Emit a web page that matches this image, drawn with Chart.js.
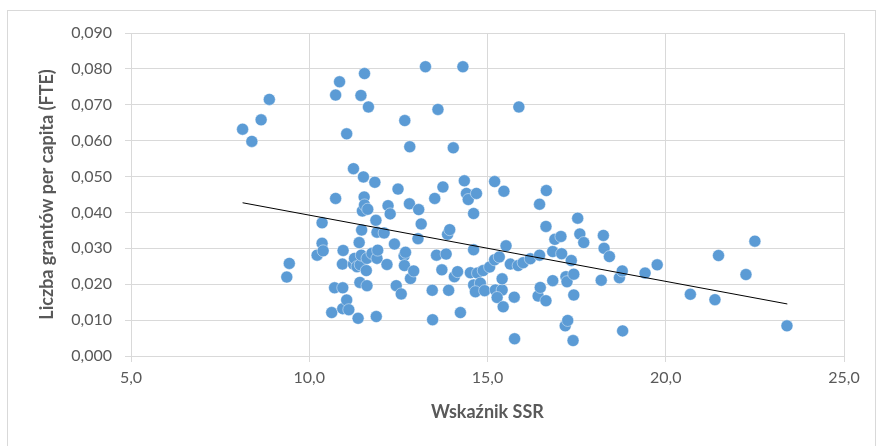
<!DOCTYPE html>
<html>
<head>
<meta charset="utf-8">
<script src="https://cdn.jsdelivr.net/npm/chart.js@4/dist/chart.umd.min.js"></script>
<style>
  body { margin: 0; background: #fff; }
</style>
</head>
<body>
<canvas id="ssr-chart" width="879" height="446"></canvas>
<script>
  // Wskaznik SSR (x) and grants per capita (y)
  var ssr = [
    8.13, 8.39, 8.65, 8.88, 9.37, 9.44, 10.22, 10.36, 10.36, 10.39,
    10.63, 10.71, 10.74, 10.74, 10.85, 10.93, 10.95, 10.94, 10.94, 11.05,
    11.05, 11.11, 11.24, 11.24, 11.27, 11.34, 11.37, 11.40, 11.42, 11.43,
    11.45, 11.46, 11.47, 11.49, 11.52, 11.55, 11.54, 11.55, 11.62, 11.60,
    11.62, 11.64, 11.66, 11.76, 11.84, 11.87, 11.88, 11.90, 11.90, 11.92,
    12.10, 12.18, 12.21, 12.27, 12.39, 12.44, 12.49, 12.58, 12.66, 12.70,
    12.67, 12.68, 12.81, 12.82, 12.84, 12.93, 13.05, 13.07, 13.14, 13.26,
    13.45, 13.46, 13.52, 13.57, 13.61, 13.72, 13.75, 13.84, 13.88, 13.94,
    13.91, 14.04, 14.07, 14.16, 14.24, 14.31, 14.35, 14.41, 14.46, 14.69,
    14.61, 14.61, 14.52, 14.72, 14.88, 15.06, 15.20, 15.33, 14.61, 14.80,
    14.66, 14.92, 15.22, 15.41, 15.27, 15.41, 15.44, 15.20, 15.46, 15.52,
    15.64, 15.75, 15.76, 15.86, 15.88, 16.00, 16.20, 16.42, 16.46, 16.46,
    16.48, 16.64, 16.64, 16.65, 16.83, 16.83, 16.89, 17.06, 17.08, 17.18,
    17.20, 17.23, 17.25, 17.35, 17.40, 17.42, 17.42, 17.53, 17.59, 17.70,
    18.19, 18.25, 18.27, 18.42, 18.70, 18.78, 18.79, 19.42, 19.76, 20.69,
    21.38, 21.48, 22.25, 22.50, 23.40
  ];
  var grants = [
    0.0632, 0.0598, 0.0658, 0.0715, 0.0220, 0.0258, 0.0281, 0.0371, 0.0314, 0.0293,
    0.0121, 0.0190, 0.0439, 0.0727, 0.0764, 0.0256, 0.0294, 0.0190, 0.0132, 0.0156,
    0.0619, 0.0129, 0.0522, 0.0256, 0.0272, 0.0249, 0.0105, 0.0316, 0.0205, 0.0254,
    0.0726, 0.0281, 0.0351, 0.0404, 0.0499, 0.0787, 0.0443, 0.0421, 0.0196, 0.0238,
    0.0272, 0.0409, 0.0694, 0.0286, 0.0484, 0.0378, 0.0110, 0.0345, 0.0272, 0.0295,
    0.0343, 0.0255, 0.0419, 0.0396, 0.0312, 0.0196, 0.0465, 0.0173, 0.0279, 0.0289,
    0.0252, 0.0656, 0.0424, 0.0583, 0.0216, 0.0237, 0.0327, 0.0408, 0.0368, 0.0806,
    0.0183, 0.0101, 0.0439, 0.0281, 0.0687, 0.0240, 0.0471, 0.0284, 0.0339, 0.0352,
    0.0183, 0.0580, 0.0221, 0.0235, 0.0121, 0.0806, 0.0488, 0.0453, 0.0436, 0.0453,
    0.0397, 0.0296, 0.0232, 0.0231, 0.0238, 0.0248, 0.0268, 0.0276, 0.0198, 0.0203,
    0.0179, 0.0182, 0.0184, 0.0184, 0.0163, 0.0215, 0.0137, 0.0486, 0.0459, 0.0307,
    0.0256, 0.0164, 0.0048, 0.0252, 0.0694, 0.0260, 0.0271, 0.0167, 0.0281, 0.0423,
    0.0191, 0.0154, 0.0361, 0.0461, 0.0291, 0.0210, 0.0325, 0.0333, 0.0285, 0.0084,
    0.0221, 0.0207, 0.0099, 0.0266, 0.0043, 0.0228, 0.0170, 0.0384, 0.0340, 0.0316,
    0.0211, 0.0336, 0.0300, 0.0277, 0.0218, 0.0237, 0.0070, 0.0231, 0.0254, 0.0172,
    0.0157, 0.0280, 0.0227, 0.0320, 0.0084
  ];

  // linear trend line end points
  var trendX = [8.13, 23.41];
  var trendY = [0.0427, 0.0145];

  var xTicks = [5, 10, 15, 20, 25];
  var yTicks = [0, 0.01, 0.02, 0.03, 0.04, 0.05, 0.06, 0.07, 0.08, 0.09];

  var points = ssr.map(function (x, i) { return { x: x, y: grants[i] }; });
  var trend = trendX.map(function (x, i) { return { x: x, y: trendY[i] }; });

  var gray = '#595959';
  var gridColor = '#d9d9d9';

  var frame = {
    id: 'frame',
    beforeDraw: function (chart) {
      var c = chart.ctx;
      c.save();
      c.fillStyle = '#fff';
      c.fillRect(0, 0, chart.width, chart.height);
      c.strokeStyle = gridColor;
      c.lineWidth = 1;
      c.strokeRect(7.5, 10.5, 868, 445);
      c.restore();
    }
  };

  var ctx = document.getElementById('ssr-chart').getContext('2d');
  var myChart = new Chart(ctx, {
    type: 'scatter',
    data: {
      datasets: [{
        label: 'Trend',
        data: trend,
        showLine: true,
        borderColor: '#000',
        borderWidth: 1,
        pointRadius: 0,
        order: 0
      }, {
        label: 'Liczba grantów',
        data: points,
        backgroundColor: '#5b9bd5',
        borderColor: 'rgba(255,255,255,0.55)',
        borderWidth: 0.8,
        pointRadius: 6,
        order: 1
      }]
    },
    options: {
      responsive: false,
      animation: false,
      layout: { padding: { left: 0, top: 33, right: 35, bottom: 0 } },
      plugins: {
        legend: { display: false },
        tooltip: { enabled: false }
      },
      scales: {
        x: {
          type: 'linear',
          min: xTicks[0],
          max: xTicks[xTicks.length - 1],
          afterBuildTicks: function (axis) {
            axis.ticks = xTicks.map(function (v) { return { value: v }; });
          },
          afterFit: function (axis) { axis.height = 90; },
          grid: { color: gridColor, tickLength: 6, drawTicks: true },
          border: { color: gridColor },
          ticks: {
            color: gray,
            padding: 6,
            maxRotation: 0,
            font: { family: 'Lato', size: 16 },
            callback: function (v) { return v.toFixed(1).replace('.', ','); }
          },
          title: {
            display: true,
            text: 'Wskaźnik SSR',
            color: gray,
            font: { family: 'Lato', size: 18, weight: 'bold' },
            padding: { top: 0, bottom: 23 }
          }
        },
        y: {
          type: 'linear',
          min: yTicks[0],
          max: yTicks[yTicks.length - 1],
          afterBuildTicks: function (axis) {
            axis.ticks = yTicks.map(function (v) { return { value: v }; });
          },
          afterFit: function (axis) { axis.width = 131; },
          grid: { color: gridColor, tickLength: 6 },
          border: { color: gridColor },
          ticks: {
            color: gray,
            padding: 13,
            font: { family: 'Lato', size: 16 },
            callback: function (v) { return v.toFixed(3).replace('.', ','); }
          },
          title: {
            display: true,
            text: 'Liczba grantów per capita (FTE)',
            color: gray,
            font: { family: 'Lato', size: 18, weight: 'bold' },
            padding: { top: 36, bottom: 0 }
          }
        }
      }
    },
    plugins: [frame]
  });
</script>
</body>
</html>
